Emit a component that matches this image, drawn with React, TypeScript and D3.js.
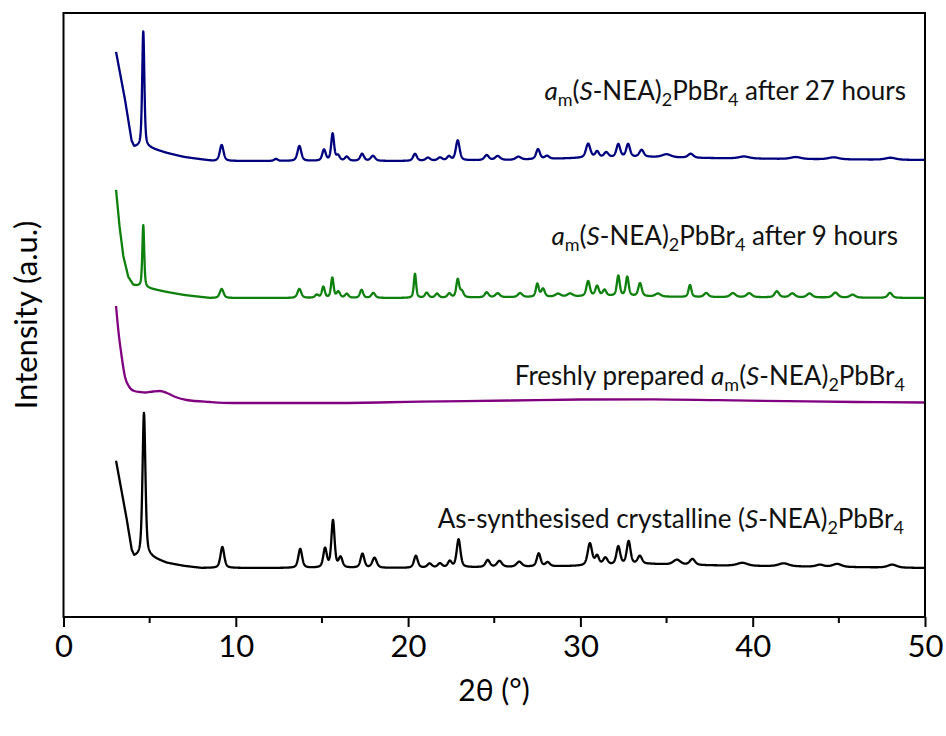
import { useEffect, useRef } from "react";
import * as d3 from "d3";

// x axis (2θ, degrees)
const xTicksMajor = [0, 10, 20, 30, 40, 50];
const xTicksMinor = [5, 15, 25, 35, 45];

// vertical offsets of each trace (a.u. above the x axis)
const blackOffset = 49;
const purpleOffset = 214;
const greenOffset = 319;
const blueOffset = 456;

// backgrounds: [2θ, intensity]
const blackBackground = [
  [3.05, 107], [3.67, 48], [3.96, 17], [4.1, 11], [4.4, 11], [5.0, 11], [6.0, 5], [7.0, 2], [8.0, 0],
  [20, 0], [26, 1], [30, 2], [34, 4], [36, 3], [40, 2], [50, 0],
];
const blueBackground = [
  [3.05, 109], [3.57, 61], [3.95, 20], [4.1, 14], [4.4, 14], [5.0, 13], [6.0, 8], [7.0, 4], [8.7, 0],
  [20, 0], [26, 1], [30, 3], [34, 4], [37, 3], [42, 2], [50, 1],
];
const greenBackground = [
  [3.05, 108], [3.25, 72], [3.47, 42], [3.76, 21], [4.05, 13], [4.3, 12], [4.85, 10], [6.0, 6], [7.0, 3],
  [8.5, 0], [20, 0], [28, 1], [32, 2], [36, 1], [50, 0],
];
// the amorphous trace has no Bragg peaks
const purpleTrace = [
  [3.05, 97], [3.18, 73], [3.38, 46], [3.57, 26], [3.86, 15], [4.1, 12], [4.44, 11], [4.73, 10.5],
  [5.2, 11.5], [5.6, 12], [6.0, 10], [6.5, 6], [7.15, 3], [8.5, 1], [9.8, 0], [15.5, 0], [20.7, 1.3],
  [26, 2.5], [30, 3.5], [34.2, 3.7], [38, 2.8], [42, 1.8], [46, 1], [50, 0.5],
];

// Bragg peaks: [2θ, height, half width]
const blackPeaks = [
  [4.67, 144, 0.1], [9.22, 21, 0.13], [13.74, 19, 0.13], [15.18, 19, 0.12], [15.64, 47, 0.11],
  [16.08, 10, 0.13], [17.35, 14, 0.13], [18.05, 10, 0.15], [20.45, 12, 0.13], [21.25, 4, 0.15],
  [21.85, 4, 0.15], [22.42, 6, 0.13], [22.93, 28, 0.13], [24.62, 7, 0.15], [25.3, 6, 0.17],
  [26.45, 5, 0.18], [27.58, 13, 0.13], [28.1, 4, 0.15], [30.55, 22, 0.15], [30.97, 9, 0.13],
  [31.45, 7, 0.15], [32.2, 18, 0.13], [32.8, 23, 0.13], [33.45, 8, 0.15], [35.6, 5, 0.25],
  [36.5, 6, 0.18], [39.4, 3, 0.35], [41.8, 3, 0.35], [43.9, 2, 0.25], [44.9, 3, 0.3], [48.1, 3, 0.3],
];
const bluePeaks = [
  [4.63, 116, 0.075], [9.18, 16, 0.13], [12.33, 2, 0.12], [13.69, 15, 0.13], [15.12, 11, 0.12],
  [15.62, 27, 0.1], [15.93, 5, 0.12], [16.44, 4, 0.13], [17.33, 7, 0.13], [17.96, 5, 0.15],
  [20.4, 7, 0.13], [21.15, 3, 0.15], [21.85, 3, 0.15], [22.37, 4, 0.13], [22.88, 20, 0.13],
  [24.56, 5, 0.15], [25.2, 4, 0.17], [26.4, 3, 0.18], [27.54, 10, 0.13], [28.06, 3, 0.15],
  [30.45, 14, 0.15], [30.97, 6, 0.13], [31.5, 5, 0.15], [32.2, 13, 0.13], [32.77, 13, 0.13],
  [33.55, 7, 0.15], [35.0, 3, 0.3], [36.4, 4, 0.18], [39.5, 2, 0.35], [42.5, 2, 0.35],
  [44.7, 2, 0.35], [48, 2, 0.35],
];
const greenPeaks = [
  [4.63, 62, 0.065], [9.18, 9, 0.13], [13.69, 9, 0.13], [14.7, 3, 0.12], [15.08, 11, 0.1],
  [15.6, 20, 0.09], [15.95, 6, 0.12], [16.44, 4, 0.12], [17.3, 8, 0.11], [17.98, 5, 0.13],
  [20.4, 24, 0.08], [21.08, 5, 0.12], [21.68, 4, 0.12], [22.39, 4, 0.12], [22.88, 18, 0.1],
  [23.12, 6, 0.12], [24.56, 5, 0.13], [25.2, 4, 0.15], [26.5, 4, 0.15], [27.5, 13, 0.1],
  [27.83, 8, 0.12], [28.7, 3, 0.18], [29.4, 3, 0.18], [30.45, 15, 0.12], [30.97, 10, 0.12],
  [31.4, 6, 0.12], [32.2, 20, 0.1], [32.72, 19, 0.1], [33.46, 13, 0.12], [34.5, 3, 0.18],
  [36.36, 12, 0.1], [37.3, 4, 0.15], [38.85, 4, 0.18], [39.8, 4, 0.18], [41.4, 6, 0.15],
  [42.3, 4, 0.18], [43.3, 4, 0.18], [44.8, 5, 0.18], [45.8, 3, 0.18], [47.97, 5, 0.15],
];

// label pieces: text, italic, subscript
const blueLabel = [
  ["a", true, false], ["m", false, true], ["(", false, false], ["S", true, false], ["-NEA)", false, false],
  ["2", false, true], ["PbBr", false, false], ["4", false, true], [" after 27 hours", false, false],
];
const greenLabel = [
  ["a", true, false], ["m", false, true], ["(", false, false], ["S", true, false], ["-NEA)", false, false],
  ["2", false, true], ["PbBr", false, false], ["4", false, true], [" after 9 hours", false, false],
];
const purpleLabel = [
  ["Freshly prepared ", false, false], ["a", true, false], ["m", false, true], ["(", false, false],
  ["S", true, false], ["-NEA)", false, false], ["2", false, true], ["PbBr", false, false], ["4", false, true],
];
const blackLabel = [
  ["As-synthesised crystalline (", false, false], ["S", true, false], ["-NEA)", false, false],
  ["2", false, true], ["PbBr", false, false], ["4", false, true],
];

const FONT = "Lato, 'Open Sans', sans-serif";
const LABEL_SIZE = 26;
const SUB_SIZE = 18;
const SUB_SHIFT = 6;

// background (piecewise via a linear scale) + pseudo-Voigt peaks
function buildTrace(bg, peaks) {
  const bgScale = d3
    .scaleLinear()
    .domain(bg.map((d) => d[0]))
    .range(bg.map((d) => d[1]))
    .clamp(true);
  return d3.range(3.05, 50.0001, 0.01).map((x) => {
    const y = d3.sum(peaks, ([c, h, w]) => {
      const u = (x - c) / w;
      return h * (0.5 / (1 + u * u) + 0.5 * Math.exp(-Math.LN2 * u * u));
    });
    return [x, bgScale(x) + y];
  });
}

const Label = ({ x, y, parts }) => {
  let prevSub = false;
  return (
    <text x={x} y={y} textAnchor="end" fontFamily={FONT} fontSize={LABEL_SIZE} fill="#111">
      {parts.map(([t, italic, sub], i) => {
        const dy = (sub ? SUB_SHIFT : 0) - (prevSub ? SUB_SHIFT : 0);
        prevSub = sub;
        return (
          <tspan
            key={i}
            dy={dy}
            fontStyle={italic ? "italic" : "normal"}
            fontSize={sub ? SUB_SIZE : LABEL_SIZE}
            style={{ whiteSpace: "pre" }}
          >
            {t}
          </tspan>
        );
      })}
    </text>
  );
};

const App = () => {
  const gRef = useRef(null);

  useEffect(() => {
    const g = d3.select(gRef.current);
    g.selectAll("*").remove();

    const x = d3.scaleLinear().domain([0, 50]).range([63.5, 925]);
    const y = d3.scaleLinear().domain([0, 604]).range([617, 13]);

    const series = [
      { color: "#000000", offset: blackOffset, data: buildTrace(blackBackground, blackPeaks), curve: d3.curveLinear },
      { color: "#800080", offset: purpleOffset, data: purpleTrace, curve: d3.curveMonotoneX },
      { color: "#0d800d", offset: greenOffset, data: buildTrace(greenBackground, greenPeaks), curve: d3.curveLinear },
      { color: "#00007f", offset: blueOffset, data: buildTrace(blueBackground, bluePeaks), curve: d3.curveLinear },
    ];

    series.forEach((s) => {
      const line = d3
        .line()
        .x((d) => x(d[0]))
        .y((d) => y(d[1] + s.offset))
        .curve(s.curve);
      g.append("path")
        .attr("d", line(s.data))
        .attr("fill", "none")
        .attr("stroke", s.color)
        .attr("stroke-width", 2.3)
        .attr("stroke-linejoin", "round");
    });

    // frame
    g.append("rect")
      .attr("x", x(0))
      .attr("y", y(604))
      .attr("width", x(50) - x(0))
      .attr("height", y(0) - y(604))
      .attr("fill", "none")
      .attr("stroke", "#000")
      .attr("stroke-width", 2);

    // bottom axis
    const axis = g.append("g").attr("transform", `translate(0,${y(0)})`);
    axis
      .call(d3.axisBottom(x).tickValues(xTicksMajor).tickSize(10).tickPadding(8))
      .call((a) => a.select(".domain").remove())
      .call((a) => a.selectAll(".tick line").attr("stroke-width", 2))
      .call((a) =>
        a.selectAll(".tick text").attr("font-family", FONT).attr("font-size", 31).attr("fill", "#000")
      );
    axis
      .selectAll(".minor")
      .data(xTicksMinor)
      .join("line")
      .attr("class", "minor")
      .attr("x1", (d) => x(d))
      .attr("x2", (d) => x(d))
      .attr("y1", 0)
      .attr("y2", 6)
      .attr("stroke", "#000")
      .attr("stroke-width", 2);

    g.append("text")
      .attr("x", 494)
      .attr("y", 701)
      .attr("text-anchor", "middle")
      .attr("font-family", FONT)
      .attr("font-size", 30)
      .text("2θ (°)");

    g.append("text")
      .attr("transform", "translate(37,315) rotate(-90)")
      .attr("text-anchor", "middle")
      .attr("font-family", FONT)
      .attr("font-size", 31)
      .text("Intensity (a.u.)");
  }, []);

  return (
    <svg width={946} height={736} style={{ position: "absolute", left: 0, top: 0 }}>
      <rect width={946} height={736} fill="#fff" />
      <g ref={gRef} />
      <Label x={906} y={100} parts={blueLabel} />
      <Label x={898} y={245} parts={greenLabel} />
      <Label x={905} y={385} parts={purpleLabel} />
      <Label x={904} y={528} parts={blackLabel} />
    </svg>
  );
};

export default App;
